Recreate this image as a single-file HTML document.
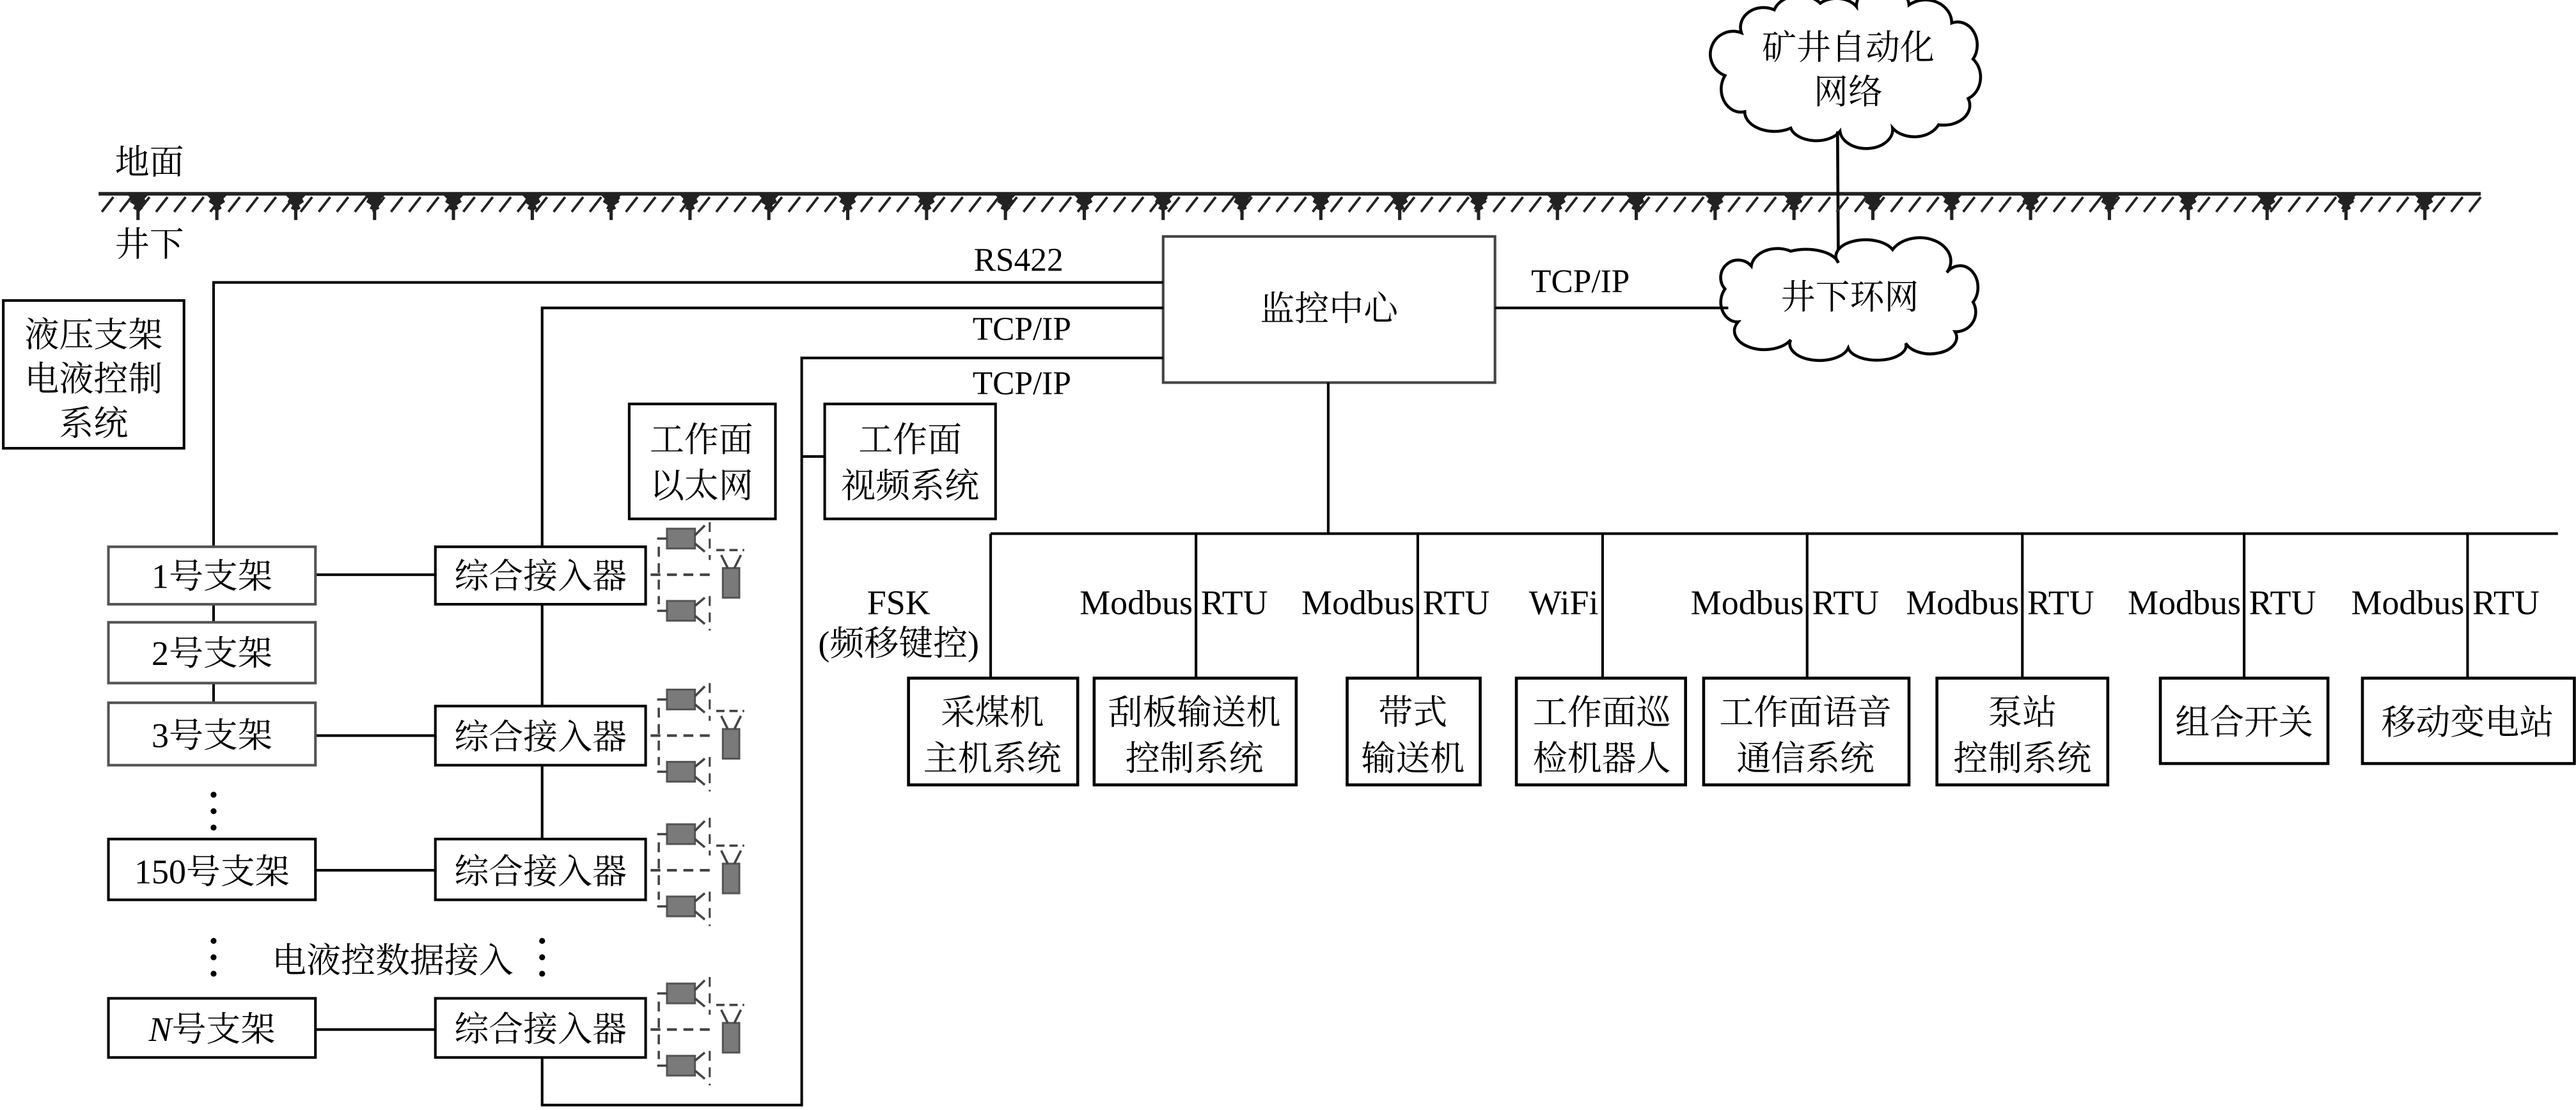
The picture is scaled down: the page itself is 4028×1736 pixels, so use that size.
<!DOCTYPE html>
<html><head><meta charset="utf-8"><style>
html,body{margin:0;padding:0;background:#fff;}
svg{display:block;}
text{font-family:"Liberation Serif","Noto Serif CJK SC",serif;fill:#000;}
</style></head><body>
<svg width="4028" height="1736" viewBox="0 0 1568 676" preserveAspectRatio="none" xmlns="http://www.w3.org/2000/svg">
<defs>
<g id="cams" stroke="#444" fill="none">
  <line x1="396" y1="0" x2="436" y2="0" stroke-width="1.6" stroke-dasharray="6,4"/>
  <line x1="401" y1="-17" x2="401" y2="18" stroke-width="1.4" stroke-dasharray="6,4"/>
  <rect x="406" y="-28" width="17" height="12" fill="#7a7a7a" stroke="#555" stroke-width="1.2"/>
  <line x1="400" y1="-22" x2="406" y2="-22" stroke-width="1.4"/>
  <path d="M423 -24 L429 -30 M423 -19 L429 -14" stroke-width="1.4"/>
  <line x1="432" y1="-32" x2="432" y2="-9" stroke-width="1.2" stroke-dasharray="6,4"/>
  <line x1="436" y1="-15" x2="453" y2="-15" stroke-width="1.4" stroke-dasharray="5,3"/>
  <rect x="440" y="-4" width="10" height="18" fill="#7a7a7a" stroke="#555" stroke-width="1.2"/>
  <path d="M443 -4 L439 -12 M447 -4 L451 -12" stroke-width="1.4"/>
  <rect x="406" y="16" width="17" height="12" fill="#7a7a7a" stroke="#555" stroke-width="1.2"/>
  <line x1="400" y1="22" x2="406" y2="22" stroke-width="1.4"/>
  <path d="M423 19 L429 14 M423 25 L429 30" stroke-width="1.4"/>
  <line x1="432" y1="13" x2="432" y2="34" stroke-width="1.2" stroke-dasharray="6,4"/>
</g>
<g id="drip" fill="#222">
  <path d="M-7 0 L7 0 L4 3 L5 5 L2 7 L3 9 L1 10 L1 16 L-1 16 L-1 10 L-3 9 L-2 7 L-5 5 L-4 3 Z"/>
</g>
</defs>

<text x="70" y="106" font-size="21">地面</text>
<line x1="60" y1="118" x2="1510" y2="118" stroke="#222" stroke-width="2.2"/>
<text x="70" y="156" font-size="21">井下</text>

<!-- clouds -->
<path d="M1060 20 A14 12 0 0 1 1080 6 A16 12 0 0 1 1108 2 A14 10 0 0 1 1130 4 A16 12 0 0 1 1162 3 A16 14 0 0 1 1188 14 A12 14 0 0 1 1201 36 A12 14 0 0 1 1198 60 A16 12 0 0 1 1180 76 A16 12 0 0 1 1152 78 A14 10 0 0 1 1120 80 A16 10 0 0 1 1090 78 A18 12 0 0 1 1062 68 A12 14 0 0 1 1050 46 A12 12 0 0 1 1060 20 Z" fill="#fff" stroke="#000" stroke-width="1.8"/>
<text x="1125" y="36" font-size="21" text-anchor="middle">矿井自动化</text>
<text x="1125" y="63" font-size="21" text-anchor="middle">网络</text>
<line x1="1118.5" y1="80" x2="1119" y2="160" stroke="#000" stroke-width="1.8"/>
<path d="M1066 162 A16 12 0 0 1 1090 153 A20 10 0 0 1 1119 160 A18 10 0 0 1 1152 152 A16 12 0 0 1 1185 166 A10 12 0 0 1 1201 184 A12 12 0 0 1 1190 202 A16 10 0 0 1 1160 209 A16 8 0 0 1 1125 212 A18 10 0 0 1 1090 207 A16 10 0 0 1 1058 196 A10 12 0 0 1 1050 176 A10 10 0 0 1 1066 162 Z" fill="#fff" stroke="#000" stroke-width="1.8"/>
<text x="1126" y="188" font-size="21" text-anchor="middle">井下环网</text>

<rect x="708" y="144" width="202" height="89" fill="#fff" stroke="#444" stroke-width="1.6"/>
<text x="809" y="195" font-size="21" text-anchor="middle">监控中心</text>
<line x1="910" y1="187.5" x2="1052" y2="187.5" stroke="#000" stroke-width="1.6"/>
<text x="962" y="178" font-size="20" text-anchor="middle">TCP/IP</text>

<g stroke="#000" stroke-width="1.6" fill="none">
<polyline points="708,172 130,172 130,333"/>
<polyline points="708,187.5 330,187.5 330,333"/>
<polyline points="708,218 488,218 488,673 330,673 330,644"/>
<line x1="488" y1="278" x2="502" y2="278"/>
<line x1="130" y1="368" x2="130" y2="379"/>
<line x1="130" y1="416" x2="130" y2="428"/>
<line x1="330" y1="368" x2="330" y2="430"/>
<line x1="330" y1="466" x2="330" y2="511"/>
<line x1="192" y1="350" x2="265" y2="350"/>
<line x1="192" y1="448" x2="265" y2="448"/>
<line x1="192" y1="530" x2="265" y2="530"/>
<line x1="192" y1="627" x2="265" y2="627"/>
<line x1="808.5" y1="233" x2="808.5" y2="325"/>
<line x1="603" y1="325" x2="1557" y2="325"/>
<line x1="603" y1="325" x2="603" y2="413"/>
<line x1="728" y1="325" x2="728" y2="413"/>
<line x1="863" y1="325" x2="863" y2="413"/>
<line x1="975.5" y1="325" x2="975.5" y2="413"/>
<line x1="1100" y1="325" x2="1100" y2="413"/>
<line x1="1231" y1="325" x2="1231" y2="413"/>
<line x1="1366" y1="325" x2="1366" y2="413"/>
<line x1="1502" y1="325" x2="1502" y2="413"/>
</g>
<text x="620" y="165" font-size="20" text-anchor="middle">RS422</text>
<text x="622" y="207" font-size="20" text-anchor="middle">TCP/IP</text>
<text x="622" y="240" font-size="20" text-anchor="middle">TCP/IP</text>

<g fill="#fff" stroke-width="1.6">
<rect x="2" y="183" width="110" height="90" stroke="#000"/>
<rect x="66" y="333" width="126" height="35" stroke="#555"/>
<rect x="66" y="379" width="126" height="37" stroke="#555"/>
<rect x="66" y="428" width="126" height="38" stroke="#555"/>
<rect x="66" y="511" width="126" height="37" stroke="#000"/>
<rect x="66" y="608" width="126" height="36" stroke="#000"/>
<rect x="265" y="333" width="128" height="35" stroke="#000"/>
<rect x="265" y="430" width="128" height="36" stroke="#000"/>
<rect x="265" y="511" width="128" height="37" stroke="#000"/>
<rect x="265" y="608" width="128" height="36" stroke="#000"/>
<rect x="383" y="246" width="89" height="70" stroke="#000"/>
<rect x="502" y="246" width="104" height="70" stroke="#000"/>
</g>
<g font-size="21" text-anchor="middle">
<text x="57" y="211">液压支架</text>
<text x="57" y="238">电液控制</text>
<text x="57" y="265">系统</text>
<text x="129" y="358">1号支架</text>
<text x="129" y="405">2号支架</text>
<text x="129" y="455">3号支架</text>
<text x="129" y="538">150号支架</text>
<text x="129" y="634"><tspan font-style="italic">N</tspan>号支架</text>
<text x="329" y="358">综合接入器</text>
<text x="329" y="456">综合接入器</text>
<text x="329" y="538">综合接入器</text>
<text x="329" y="634">综合接入器</text>
<text x="427" y="275">工作面</text>
<text x="427" y="303">以太网</text>
<text x="554" y="275">工作面</text>
<text x="554" y="303">视频系统</text>
<text x="239" y="592">电液控数据接入</text>
</g>
<g fill="#000">
<circle cx="130" cy="484" r="1.8"/><circle cx="130" cy="494" r="1.8"/><circle cx="130" cy="504" r="1.8"/>
<circle cx="130" cy="573" r="1.8"/><circle cx="130" cy="583" r="1.8"/><circle cx="130" cy="593" r="1.8"/>
<circle cx="330" cy="573" r="1.8"/><circle cx="330" cy="583" r="1.8"/><circle cx="330" cy="593" r="1.8"/>
</g>
<use href="#cams" transform="translate(0,350)"/>
<use href="#cams" transform="translate(0,448)"/>
<use href="#cams" transform="translate(0,530)"/>
<use href="#cams" transform="translate(0,627)"/>

<g fill="#fff" stroke="#000" stroke-width="1.8">
<rect x="553" y="413" width="103" height="65"/>
<rect x="666" y="413" width="123" height="65"/>
<rect x="820" y="413" width="81" height="65"/>
<rect x="923" y="413" width="103" height="65"/>
<rect x="1037" y="413" width="125" height="65"/>
<rect x="1179" y="413" width="104" height="65"/>
<rect x="1315" y="413" width="102" height="52"/>
<rect x="1438" y="413" width="129" height="52"/>
</g>
<g font-size="21" text-anchor="middle">
<text x="604" y="441">采煤机</text><text x="604" y="469">主机系统</text>
<text x="727" y="441">刮板输送机</text><text x="727" y="469">控制系统</text>
<text x="860" y="441">带式</text><text x="860" y="469">输送机</text>
<text x="975" y="441">工作面巡</text><text x="975" y="469">检机器人</text>
<text x="1099" y="441">工作面语音</text><text x="1099" y="469">通信系统</text>
<text x="1231" y="441">泵站</text><text x="1231" y="469">控制系统</text>
<text x="1366" y="447">组合开关</text>
<text x="1502" y="447">移动变电站</text>
</g>
<g font-size="21">
<text x="547" y="374" text-anchor="middle">FSK</text>
<text x="547" y="399" text-anchor="middle">(频移键控)</text>
<text x="726" y="374" text-anchor="end">Modbus</text><text x="731" y="374">RTU</text>
<text x="861" y="374" text-anchor="end">Modbus</text><text x="866" y="374">RTU</text>
<text x="973" y="374" text-anchor="end">WiFi</text>
<text x="1098" y="374" text-anchor="end">Modbus</text><text x="1103" y="374">RTU</text>
<text x="1229" y="374" text-anchor="end">Modbus</text><text x="1234" y="374">RTU</text>
<text x="1364" y="374" text-anchor="end">Modbus</text><text x="1369" y="374">RTU</text>
<text x="1500" y="374" text-anchor="end">Modbus</text><text x="1505" y="374">RTU</text>
</g>

<g stroke="#222" stroke-width="1.5">
<path d="M62 129L69 120M73 129L80 120M84 129L91 120M95 129L102 120M106 129L113 120M117 129L124 120M128 129L135 120M139 129L146 120M150 129L157 120M161 129L168 120M172 129L179 120M183 129L190 120M194 129L201 120M205 129L212 120M216 129L223 120M227 129L234 120M238 129L245 120M249 129L256 120M260 129L267 120M271 129L278 120M282 129L289 120M293 129L300 120M304 129L311 120M315 129L322 120M326 129L333 120M337 129L344 120M348 129L355 120M359 129L366 120M370 129L377 120M381 129L388 120M392 129L399 120M403 129L410 120M414 129L421 120M425 129L432 120M436 129L443 120M447 129L454 120M458 129L465 120M469 129L476 120M480 129L487 120M491 129L498 120M502 129L509 120M513 129L520 120M524 129L531 120M535 129L542 120M546 129L553 120M557 129L564 120M568 129L575 120M579 129L586 120M590 129L597 120M601 129L608 120M612 129L619 120M623 129L630 120M634 129L641 120M645 129L652 120M656 129L663 120M667 129L674 120M678 129L685 120M689 129L696 120M700 129L707 120M711 129L718 120M722 129L729 120M733 129L740 120M744 129L751 120M755 129L762 120M766 129L773 120M777 129L784 120M788 129L795 120M799 129L806 120M810 129L817 120M821 129L828 120M832 129L839 120M843 129L850 120M854 129L861 120M865 129L872 120M876 129L883 120M887 129L894 120M898 129L905 120M909 129L916 120M920 129L927 120M931 129L938 120M942 129L949 120M953 129L960 120M964 129L971 120M975 129L982 120M986 129L993 120M997 129L1004 120M1008 129L1015 120M1019 129L1026 120M1030 129L1037 120M1041 129L1048 120M1052 129L1059 120M1063 129L1070 120M1074 129L1081 120M1085 129L1092 120M1096 129L1103 120M1107 129L1114 120M1118 129L1125 120M1129 129L1136 120M1140 129L1147 120M1151 129L1158 120M1162 129L1169 120M1173 129L1180 120M1184 129L1191 120M1195 129L1202 120M1206 129L1213 120M1217 129L1224 120M1228 129L1235 120M1239 129L1246 120M1250 129L1257 120M1261 129L1268 120M1272 129L1279 120M1283 129L1290 120M1294 129L1301 120M1305 129L1312 120M1316 129L1323 120M1327 129L1334 120M1338 129L1345 120M1349 129L1356 120M1360 129L1367 120M1371 129L1378 120M1382 129L1389 120M1393 129L1400 120M1404 129L1411 120M1415 129L1422 120M1426 129L1433 120M1437 129L1444 120M1448 129L1455 120M1459 129L1466 120M1470 129L1477 120M1481 129L1488 120M1492 129L1499 120M1503 129L1510 120"/>
</g>
<g>
<use href="#drip" transform="translate(84,118)"/><use href="#drip" transform="translate(132,118)"/><use href="#drip" transform="translate(180,118)"/><use href="#drip" transform="translate(228,118)"/><use href="#drip" transform="translate(276,118)"/><use href="#drip" transform="translate(324,118)"/><use href="#drip" transform="translate(372,118)"/><use href="#drip" transform="translate(420,118)"/><use href="#drip" transform="translate(468,118)"/><use href="#drip" transform="translate(516,118)"/><use href="#drip" transform="translate(564,118)"/><use href="#drip" transform="translate(612,118)"/><use href="#drip" transform="translate(660,118)"/><use href="#drip" transform="translate(708,118)"/><use href="#drip" transform="translate(756,118)"/><use href="#drip" transform="translate(804,118)"/><use href="#drip" transform="translate(852,118)"/><use href="#drip" transform="translate(900,118)"/><use href="#drip" transform="translate(948,118)"/><use href="#drip" transform="translate(996,118)"/><use href="#drip" transform="translate(1044,118)"/><use href="#drip" transform="translate(1092,118)"/><use href="#drip" transform="translate(1140,118)"/><use href="#drip" transform="translate(1188,118)"/><use href="#drip" transform="translate(1236,118)"/><use href="#drip" transform="translate(1284,118)"/><use href="#drip" transform="translate(1332,118)"/><use href="#drip" transform="translate(1380,118)"/><use href="#drip" transform="translate(1428,118)"/><use href="#drip" transform="translate(1476,118)"/>
</g>
</svg>
</body></html>
